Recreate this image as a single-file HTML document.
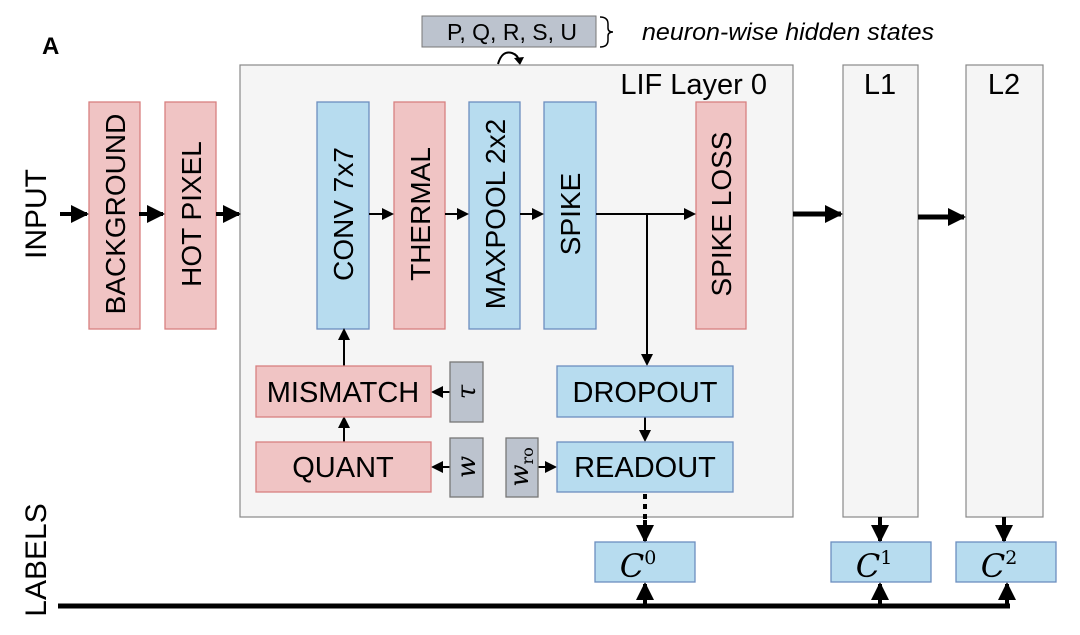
<!DOCTYPE html>
<html><head><style>body{margin:0;background:#fff}svg{display:block}</style></head><body>
<svg width="1080" height="635" viewBox="0 0 1080 635" xmlns="http://www.w3.org/2000/svg" font-family="Liberation Sans, sans-serif">
<defs>
<marker id="ah" markerWidth="12" markerHeight="12" refX="10" refY="6" orient="auto" markerUnits="userSpaceOnUse"><path d="M0,0 L12,6 L0,12 z" fill="#000"/></marker>
<marker id="ahb" markerWidth="18" markerHeight="18" refX="16" refY="9" orient="auto" markerUnits="userSpaceOnUse"><path d="M0,0 L18,9 L0,18 z" fill="#000"/></marker>
</defs>
<text x="42" y="54" font-size="24" font-weight="bold">A</text>
<rect x="422" y="16" width="174" height="31" fill="#bcc3ce" stroke="#777"/>
<text x="512" y="40" font-size="23" text-anchor="middle">P, Q, R, S, U</text>
<path d="M600,17 q8,0 8,7 v4 q0,4 5,4 q-5,0 -5,4 v4 q0,7 -8,7" fill="none" stroke="#000" stroke-width="1.5"/>
<text x="642" y="40" font-size="24" font-style="italic" textLength="292" lengthAdjust="spacingAndGlyphs">neuron-wise hidden states</text>
<path d="M498,64 q4,-14 14,-11 q6,2 7,8" fill="none" stroke="#000" stroke-width="2"/>
<path d="M514,58 l10,-1 l-4,8 z" fill="#000"/>
<rect x="240" y="65" width="553" height="452" fill="#f5f5f5" stroke="#888" stroke-width="1.2"/>
<rect x="843" y="65" width="75" height="452" fill="#f5f5f5" stroke="#888" stroke-width="1.2"/>
<rect x="966" y="65" width="77" height="452" fill="#f5f5f5" stroke="#888" stroke-width="1.2"/>
<text x="767" y="94" font-size="29" text-anchor="end">LIF Layer 0</text>
<text x="880" y="94" font-size="29" text-anchor="middle">L1</text>
<text x="1004" y="94" font-size="29" text-anchor="middle">L2</text>
<g stroke-width="1.3">
<rect x="89" y="102" width="51" height="227" fill="#f0c4c4" stroke="#d88080"/>
<rect x="165" y="102" width="51" height="227" fill="#f0c4c4" stroke="#d88080"/>
<rect x="317" y="102" width="52" height="227" fill="#b7dcef" stroke="#6c8ebf"/>
<rect x="394" y="102" width="51" height="227" fill="#f0c4c4" stroke="#d88080"/>
<rect x="469" y="102" width="51" height="227" fill="#b7dcef" stroke="#6c8ebf"/>
<rect x="544" y="102" width="52" height="227" fill="#b7dcef" stroke="#6c8ebf"/>
<rect x="696" y="102" width="50" height="227" fill="#f0c4c4" stroke="#d88080"/>
</g>
<g font-size="28" text-anchor="middle">
<text transform="translate(125,214) rotate(-90)">BACKGROUND</text>
<text transform="translate(201,214) rotate(-90)">HOT PIXEL</text>
<text transform="translate(353,214) rotate(-90)">CONV 7x7</text>
<text transform="translate(430,214) rotate(-90)">THERMAL</text>
<text transform="translate(505,214) rotate(-90)">MAXPOOL 2x2</text>
<text transform="translate(580,214) rotate(-90)">SPIKE</text>
<text transform="translate(731,214) rotate(-90)">SPIKE LOSS</text>
<text transform="translate(46,214) rotate(-90)" font-size="30">INPUT</text>
<text transform="translate(46,560) rotate(-90)" font-size="30">LABELS</text>
</g>
<g stroke="#000">
<line x1="60" y1="214" x2="87" y2="214" stroke-width="4" marker-end="url(#ahb)"/>
<line x1="139" y1="214" x2="163" y2="214" stroke-width="4" marker-end="url(#ahb)"/>
<line x1="216" y1="214" x2="239" y2="214" stroke-width="4" marker-end="url(#ahb)"/>
<line x1="369" y1="214" x2="392" y2="214" stroke-width="2" marker-end="url(#ah)"/>
<line x1="445" y1="214" x2="467" y2="214" stroke-width="2" marker-end="url(#ah)"/>
<line x1="520" y1="214" x2="542" y2="214" stroke-width="2" marker-end="url(#ah)"/>
<line x1="596" y1="214" x2="694" y2="214" stroke-width="2" marker-end="url(#ah)"/>
<line x1="647" y1="214" x2="647" y2="364" stroke-width="2" marker-end="url(#ah)"/>
<line x1="793" y1="214" x2="841" y2="214" stroke-width="5" marker-end="url(#ahb)"/>
<line x1="918" y1="217" x2="964" y2="217" stroke-width="5" marker-end="url(#ahb)"/>
<line x1="344" y1="366" x2="344" y2="330" stroke-width="2" marker-end="url(#ah)"/>
<line x1="344" y1="442" x2="344" y2="418" stroke-width="2" marker-end="url(#ah)"/>
<line x1="450" y1="392" x2="433" y2="392" stroke-width="2" marker-end="url(#ah)"/>
<line x1="450" y1="467" x2="433" y2="467" stroke-width="2" marker-end="url(#ah)"/>
<line x1="538" y1="467" x2="555" y2="467" stroke-width="2" marker-end="url(#ah)"/>
<line x1="645" y1="417" x2="645" y2="440" stroke-width="2" marker-end="url(#ah)"/>
<line x1="645" y1="494" x2="645" y2="522" stroke-width="4" stroke-dasharray="5,5"/>
<line x1="645" y1="520" x2="645" y2="541" stroke-width="4" marker-end="url(#ahb)"/>
<line x1="880" y1="517" x2="880" y2="541" stroke-width="4" marker-end="url(#ahb)"/>
<line x1="1004" y1="517" x2="1004" y2="541" stroke-width="4" marker-end="url(#ahb)"/>
<line x1="58" y1="606" x2="1010" y2="606" stroke-width="5"/>
<line x1="645" y1="606" x2="645" y2="584" stroke-width="4" marker-end="url(#ahb)"/>
<line x1="880" y1="606" x2="880" y2="584" stroke-width="4" marker-end="url(#ahb)"/>
<line x1="1007" y1="606" x2="1007" y2="584" stroke-width="4" marker-end="url(#ahb)"/>
</g>
<g stroke-width="1.3">
<rect x="256" y="366" width="175" height="51" fill="#f0c4c4" stroke="#d88080"/>
<rect x="256" y="442" width="175" height="50" fill="#f0c4c4" stroke="#d88080"/>
<rect x="557" y="366" width="176" height="51" fill="#b7dcef" stroke="#6c8ebf"/>
<rect x="557" y="442" width="176" height="50" fill="#b7dcef" stroke="#6c8ebf"/>
<rect x="450" y="362" width="33" height="60" fill="#bcc3ce" stroke="#777"/>
<rect x="450" y="438" width="33" height="59" fill="#bcc3ce" stroke="#777"/>
<rect x="506" y="438" width="32" height="59" fill="#bcc3ce" stroke="#777"/>
<rect x="595" y="542" width="100" height="40" fill="#b7dcef" stroke="#6c8ebf"/>
<rect x="831" y="542" width="100" height="40" fill="#b7dcef" stroke="#6c8ebf"/>
<rect x="956" y="542" width="100" height="40" fill="#b7dcef" stroke="#6c8ebf"/>
</g>
<g font-size="29" text-anchor="middle">
<text x="343" y="402">MISMATCH</text>
<text x="343" y="477">QUANT</text>
<text x="645" y="402">DROPOUT</text>
<text x="645" y="477">READOUT</text>
</g>
<g font-family="DejaVu Serif, serif" font-style="italic" font-size="26" text-anchor="middle">
<text transform="translate(475,392) rotate(-90)">τ</text>
<text transform="translate(475,467) rotate(-90)">w</text>
<text transform="translate(528,467) rotate(-90)">w<tspan font-style="normal" font-size="16" dy="5">ro</tspan></text>
<text x="638" y="577" font-size="32">C<tspan font-style="normal" font-size="19" dy="-13">0</tspan></text>
<text x="874" y="577" font-size="32">C<tspan font-style="normal" font-size="19" dy="-13">1</tspan></text>
<text x="999" y="577" font-size="32">C<tspan font-style="normal" font-size="19" dy="-13">2</tspan></text>
</g>
</svg>
</body></html>
